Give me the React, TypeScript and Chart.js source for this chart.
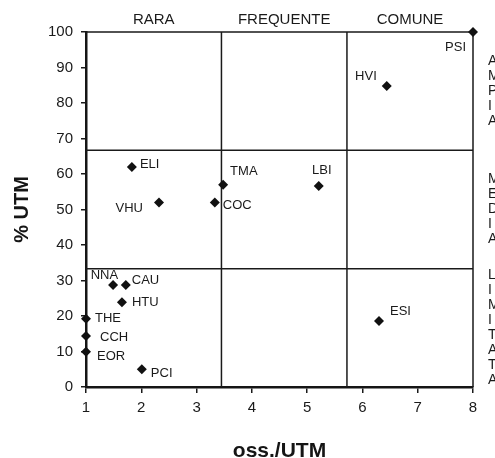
import React, { useEffect, useRef } from 'react';
import { Chart, registerables } from 'chart.js';

Chart.register(...registerables);

// ---- data ----
const species = ['ELI', 'VHU', 'TMA', 'COC', 'LBI', 'HVI', 'PSI', 'ESI', 'NNA', 'CAU', 'HTU', 'THE', 'CCH', 'EOR', 'PCI'];
const ossPerUtm = [1.83, 2.32, 3.48, 3.33, 5.21, 6.44, 8, 6.3, 1.49, 1.72, 1.65, 1, 1, 1, 2.01];
const pctUtm = [62, 52, 57, 52, 56.6, 84.8, 100, 18.6, 28.7, 28.7, 23.9, 19.2, 14.4, 9.9, 5];
const frequencyBounds = [3.45, 5.72];
const spreadBounds = [66.7, 33.3];
const frequencyClasses = ['RARA', 'FREQUENTE', 'COMUNE'];
const spreadClasses = ['AMPIA', 'MEDIA', 'LIMITATA'];

// label placement (dx, dy in px, alignment) – styling, not data
const labelPlacement: [number, number, CanvasTextAlign][] = [
  [8, -2, 'left'],
  [-16, 6, 'right'],
  [7, -13, 'left'],
  [8, 3, 'left'],
  [3, -16, 'center'],
  [-10, -10, 'right'],
  [-7, 15, 'right'],
  [11, -10, 'left'],
  [5, -10, 'right'],
  [6, -5, 'left'],
  [10, 0, 'left'],
  [9, 0, 'left'],
  [14, 2, 'left'],
  [11, 5, 'left'],
  [9, 4, 'left'],
];

const FONT = '"Liberation Sans", Arial, sans-serif';
const INK = '#1a1a1a';

const decorPlugin = {
  id: 'decor',
  beforeDatasetsDraw(chart: any) {
    const { ctx, chartArea: a, scales } = chart;
    const x = scales.x;
    const y = scales.y;
    ctx.save();
    ctx.strokeStyle = INK;
    ctx.lineWidth = 1.5;
    ctx.beginPath();
    // top & right frame
    ctx.moveTo(a.left, a.top);
    ctx.lineTo(a.right, a.top);
    ctx.lineTo(a.right, a.bottom);
    frequencyBounds.forEach((v) => {
      const px = x.getPixelForValue(v);
      ctx.moveTo(px, a.top);
      ctx.lineTo(px, a.bottom);
    });
    spreadBounds.forEach((v) => {
      const py = y.getPixelForValue(v);
      ctx.moveTo(a.left, py);
      ctx.lineTo(a.right, py);
    });
    ctx.stroke();
    ctx.restore();
  },
  afterDatasetsDraw(chart: any) {
    const { ctx, chartArea: a, scales } = chart;
    const x = scales.x;
    const y = scales.y;
    ctx.save();
    ctx.fillStyle = INK;
    ctx.textBaseline = 'middle';
    // point labels
    ctx.font = `13px ${FONT}`;
    species.forEach((s, i) => {
      const [dx, dy, al] = labelPlacement[i];
      ctx.textAlign = al;
      ctx.fillText(s, x.getPixelForValue(ossPerUtm[i]) + dx, y.getPixelForValue(pctUtm[i]) + dy);
    });
    // frequency classes across the top
    ctx.font = `15px ${FONT}`;
    ctx.textAlign = 'center';
    const xb = [x.min, ...frequencyBounds, x.max];
    frequencyClasses.forEach((t, i) => {
      const cx = (x.getPixelForValue(xb[i]) + x.getPixelForValue(xb[i + 1])) / 2;
      ctx.fillText(t, cx, a.top - 12);
    });
    // spread classes, vertical letters on the right
    ctx.font = `14px ${FONT}`;
    ctx.textAlign = 'left';
    const yb = [y.max, ...spreadBounds, y.min];
    spreadClasses.forEach((t, i) => {
      const cy = (y.getPixelForValue(yb[i]) + y.getPixelForValue(yb[i + 1])) / 2;
      const step = 15;
      const n = t.length;
      for (let k = 0; k < n; k++) {
        ctx.fillText(t[k], a.right + 15, cy + (k - (n - 1) / 2) * step);
      }
    });
    ctx.restore();
  },
};

export default function App() {
  const ref = useRef<HTMLCanvasElement | null>(null);
  useEffect(() => {
    if (!ref.current) return;
    const chart = new Chart(ref.current, {
      type: 'scatter',
      data: {
        datasets: [
          {
            data: species.map((_, i) => ({ x: ossPerUtm[i], y: pctUtm[i] })),
            pointStyle: 'rectRot',
            pointRadius: 5,
            pointBackgroundColor: '#111',
            pointBorderWidth: 0,
            clip: false as any,
          } as any,
        ],
      },
      options: {
        animation: false,
        responsive: false,
        devicePixelRatio: 1,
        layout: { padding: { top: 32, right: 22, left: 0, bottom: 0 } },
        plugins: { legend: { display: false }, tooltip: { enabled: false } },
        scales: {
          x: {
            type: 'linear',
            min: 1,
            max: 8,
            ticks: { stepSize: 1, color: INK, font: { family: FONT, size: 15 }, padding: 6 },
            grid: { display: true, drawOnChartArea: false, drawTicks: true, tickLength: 6, color: INK, lineWidth: 1.5 },
            border: { display: true, color: '#151515', width: 2.5 },
            title: {
              display: true,
              text: 'oss./UTM',
              color: '#151515',
              font: { family: FONT, size: 21, weight: 'bold' },
              padding: { top: 0, bottom: -6 },
            },
            afterFit: (s: any) => {
              s.height = 71;
            },
          },
          y: {
            type: 'linear',
            min: 0,
            max: 100,
            ticks: { stepSize: 10, color: INK, font: { family: FONT, size: 15 }, padding: 8 },
            grid: { display: true, drawOnChartArea: false, drawTicks: true, tickLength: 5, color: INK, lineWidth: 1.5 },
            border: { display: true, color: '#151515', width: 2.5 },
            title: {
              display: true,
              text: '% UTM',
              color: '#151515',
              font: { family: FONT, size: 20, weight: 'bold' },
              padding: { top: 10, bottom: 0 },
            },
            afterFit: (s: any) => {
              s.width = 86;
            },
          },
        },
      } as any,
      plugins: [decorPlugin],
    });
    return () => chart.destroy();
  }, []);
  return (
    <div style={{ position: 'absolute', left: 0, top: 0, width: 495, height: 458, background: '#fff' }}>
      <canvas ref={ref} width={495} height={458} style={{ display: 'block' }} />
    </div>
  );
}
